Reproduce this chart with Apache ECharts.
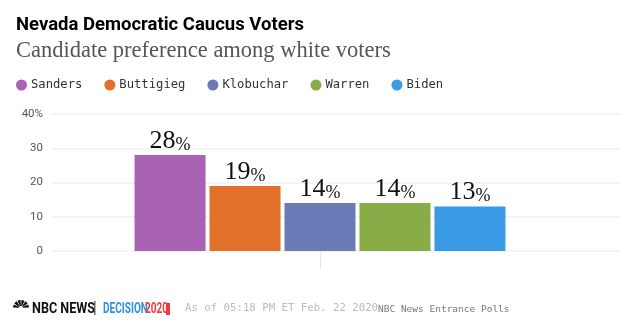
<!DOCTYPE html>
<html>
<head>
<meta charset="utf-8">
<script src="https://cdn.jsdelivr.net/npm/echarts@6/dist/echarts.min.js"></script>
<style>html,body{margin:0;padding:0;background:#fff}#c{width:640px;height:336px}</style>
</head>
<body>
<div id="c"></div>
<script>
const candidates = ['Sanders', 'Buttigieg', 'Klobuchar', 'Warren', 'Biden'];
const values = [28, 19, 14, 14, 13];
const colors = ['#aa62b4', '#e0702a', '#6a7ab6', '#88ac48', '#3b9ae6'];
const yTicks = [0, 10, 20, 30, 40];
const category = ['White voters'];

const chart = echarts.init(document.getElementById('c'), null, {renderer: 'canvas'});
const series = candidates.map((name, i) => ({
  name: name,
  type: 'bar',
  xAxisIndex: 1,
  yAxisIndex: 1,
  barWidth: 71,
  barGap: '5.6%',
  itemStyle: {color: colors[i]},
  label: {
    show: true,
    position: 'top',
    distance: 1,
    formatter: p => '{n|' + p.value + '}{p|%}',
    rich: {
      n: {fontFamily: 'Liberation Serif', fontSize: 26, color: '#111', verticalAlign: 'bottom', lineHeight: 26},
      p: {fontFamily: 'Liberation Serif', fontSize: 18, color: '#111', verticalAlign: 'bottom', lineHeight: 22}
    }
  },
  data: [values[i]]
}));

chart.setOption({
  animation: false,
  title: [
    {text: 'Nevada Democratic Caucus Voters', left: 16, top: 16, padding: 0,
     textStyle: {fontFamily: 'Roboto', fontWeight: 'bold', fontSize: 18.5, color: '#000'}},
    {text: 'Candidate preference among white voters', left: 16, top: 40, padding: 0,
     textStyle: {fontFamily: 'Liberation Serif', fontWeight: 'normal', fontSize: 22.5, color: '#555'}}
  ],
  legend: {
    left: 16, top: 79, padding: 0, icon: 'circle', itemWidth: 11, itemHeight: 11, itemGap: 22,
    textStyle: {fontFamily: 'DejaVu Sans Mono', fontSize: 12.2, color: '#333', padding: [0, 0, 0, -1]},
    data: candidates
  },
  grid: [
    {left: 52, right: 20, top: 114, bottom: 85},
    {left: 20, right: 20, top: 114, bottom: 85}
  ],
  xAxis: [
    {type: 'category', gridIndex: 0, data: category, show: false},
    {type: 'category', gridIndex: 1, data: category,
     axisLine: {show: false},
     axisTick: {show: true, alignWithLabel: true, length: 18, lineStyle: {color: '#e8e8e8'}},
     axisLabel: {show: false}}
  ],
  yAxis: [
    {type: 'value', gridIndex: 0, min: yTicks[0], max: yTicks[yTicks.length - 1], interval: 10,
     axisLine: {show: false}, axisTick: {show: false},
     splitLine: {lineStyle: {color: '#f0f0f0', width: 1.5}},
     axisLabel: {margin: 9, fontFamily: 'Roboto', fontSize: 11.5, color: '#555',
       formatter: v => v === yTicks[yTicks.length - 1] ? v + '%' : String(v)}},
    {type: 'value', gridIndex: 1, min: yTicks[0], max: yTicks[yTicks.length - 1], interval: 10, show: false,
     splitLine: {show: false}}
  ],
  series: series,
  graphic: [
    {type: 'group', left: 13, top: 300, children: [0,1,2,3,4,5].map(k => ({
      type: 'sector',
      shape: {cx: 8.5, cy: 10, r0: 2, r: 8, startAngle: Math.PI + k * Math.PI / 6 + 0.06, endAngle: Math.PI + (k + 1) * Math.PI / 6 - 0.06},
      style: {fill: '#111'}
    }))},
    {type: 'text', x: 32, y: 302, scaleX: 0.9, style: {text: 'NBC NEWS', font: 'bold 14px Roboto', fill: '#111'}},
    {type: 'text', x: 93, y: 301, style: {text: '|', font: '14px "Liberation Sans"', fill: '#444'}},
    {type: 'text', x: 103, y: 302, scaleX: 0.72, style: {text: 'DECISION', font: 'bold 14px Roboto', fill: '#2f8fe0'}},
    {type: 'text', x: 145, y: 302, scaleX: 0.72, style: {text: '2020', font: 'bold 14px Roboto', fill: '#ee3b3b'}},
    {type: 'rect', x: 166, y: 303, shape: {width: 4, height: 12}, style: {fill: '#ee3b3b'}},
    {type: 'text', x: 185, y: 303, style: {text: 'As of 05:18 PM ET Feb. 22 2020', font: '10.7px "DejaVu Sans Mono"', fill: '#bbb'}},
    {type: 'text', x: 378, y: 305, style: {text: 'NBC News Entrance Polls', font: '9.5px "DejaVu Sans Mono"', fill: '#777'}}
  ]
});
</script>
</body>
</html>
